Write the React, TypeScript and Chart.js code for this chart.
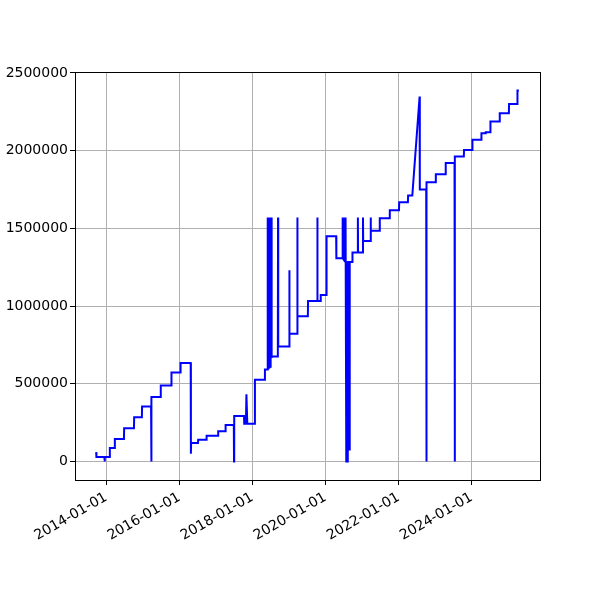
import React, { useEffect, useRef } from "react";
import { Chart, registerables } from "chart.js";

Chart.register(...registerables);

// Observation dates
const DATES: string[] = [
  "2013-09-22", "2013-09-25", "2013-12-13", "2013-12-16", "2013-12-19",
  "2014-02-04", "2014-02-06", "2014-03-26", "2014-03-28", "2014-06-27",
  "2014-06-29", "2014-10-05", "2014-10-07", "2014-12-23", "2014-12-25",
  "2015-03-25", "2015-03-27", "2015-03-30", "2015-06-28", "2015-06-30",
  "2015-10-13", "2015-10-15", "2016-01-12", "2016-01-14", "2016-04-24",
  "2016-04-26", "2016-04-28", "2016-07-06", "2016-07-08", "2016-09-28",
  "2016-09-30", "2017-01-22", "2017-01-24", "2017-04-06", "2017-04-08",
  "2017-06-29", "2017-07-01", "2017-07-03", "2017-10-09", "2017-10-11",
  "2017-10-28", "2017-11-02", "2017-11-11", "2018-01-24", "2018-01-26",
  "2018-05-04", "2018-05-06", "2018-05-30",
  "2018-06-01", "2018-06-03", "2018-06-05", "2018-06-07", "2018-06-09",
  "2018-06-11", "2018-06-13", "2018-06-15", "2018-06-17", "2018-06-19",
  "2018-06-21", "2018-06-23", "2018-06-25", "2018-06-27", "2018-06-29",
  "2018-07-01", "2018-07-03", "2018-07-05", "2018-07-07", "2018-07-09",
  "2018-07-11", "2018-07-13", "2018-07-15",
  "2018-09-12", "2018-09-14", "2018-09-16", "2019-01-03", "2019-01-05",
  "2019-01-07", "2019-03-24", "2019-03-26", "2019-03-28", "2019-07-09",
  "2019-07-11", "2019-10-10", "2019-10-12", "2019-10-14", "2019-11-13",
  "2019-11-15", "2020-01-10", "2020-01-12", "2020-04-17", "2020-04-19",
  "2020-06-17",
  "2020-06-19", "2020-06-21", "2020-06-23", "2020-06-25", "2020-06-27",
  "2020-06-29", "2020-07-01", "2020-07-03", "2020-07-05", "2020-07-07",
  "2020-07-09", "2020-07-11", "2020-07-13", "2020-07-15", "2020-07-17",
  "2020-07-19", "2020-07-21", "2020-07-23",
  "2020-07-27", "2020-08-01",
  "2020-08-05", "2020-08-11", "2020-08-27", "2020-08-29", "2020-09-01",
  "2020-09-25", "2020-09-27", "2020-11-18", "2020-11-20", "2020-11-22",
  "2021-01-08", "2021-01-10", "2021-01-12", "2021-03-26", "2021-03-28",
  "2021-03-30", "2021-06-25", "2021-06-27", "2021-10-03", "2021-10-05",
  "2022-01-05", "2022-01-07", "2022-04-04", "2022-04-06", "2022-05-18",
  "2022-07-30", "2022-08-01", "2022-10-04", "2022-10-06", "2022-10-08",
  "2023-01-06", "2023-01-08", "2023-04-15", "2023-04-17", "2023-07-14",
  "2023-07-16", "2023-07-18", "2023-10-15", "2023-10-17", "2024-01-07",
  "2024-01-09", "2024-04-06", "2024-04-08", "2024-05-19", "2024-05-21",
  "2024-07-05", "2024-07-07", "2024-10-06", "2024-10-08", "2025-01-07",
  "2025-01-09", "2025-04-01", "2025-04-03", "2025-04-17",
];

// Series values
const VALUES: number[] = [
  60000, 28000, 28000, 0, 28000,
  28000, 86000, 86000, 144000, 144000,
  214000, 214000, 285000, 285000, 354000,
  354000, 0, 414000, 414000, 489000,
  489000, 573000, 573000, 633000, 633000,
  50000, 118000, 118000, 140000, 140000,
  165000, 165000, 195000, 195000, 234000,
  234000, 0, 292000, 292000, 243000,
  243000, 433000, 243000, 243000, 526000,
  526000, 592000, 592000,
  1570000, 598000, 1570000, 600000, 1570000,
  602000, 1570000, 605000, 1570000, 640000,
  1570000, 600000, 1570000, 610000, 1570000,
  650000, 1570000, 660000, 1570000, 665000,
  1570000, 1570000, 676000,
  676000, 1570000, 740000, 740000, 1230000,
  822000, 822000, 1570000, 934000, 934000,
  1032000, 1032000, 1570000, 1032000, 1032000,
  1071000, 1071000, 1449000, 1449000, 1307000,
  1307000,
  1570000, 1310000, 1570000, 1305000, 1570000,
  1300000, 1570000, 1300000, 1570000, 1295000,
  1570000, 1290000, 1570000, 1290000, 1570000,
  1285000, 1570000, 1570000,
  0, 1283000,
  0, 1283000, 1283000, 70000, 1283000,
  1283000, 1344000, 1344000, 1570000, 1344000,
  1344000, 1570000, 1419000, 1419000, 1570000,
  1485000, 1485000, 1565000, 1565000, 1616000,
  1616000, 1668000, 1668000, 1711000, 1711000,
  2348000, 1750000, 1750000, 0, 1797000,
  1797000, 1848000, 1848000, 1921000, 1921000,
  0, 1962000, 1962000, 2004000, 2004000,
  2071000, 2071000, 2112000, 2112000, 2118000,
  2118000, 2187000, 2187000, 2241000, 2241000,
  2301000, 2301000, 2387000, 2387000,
];

const X_TICK_LABELS: string[] = [
  "2014-01-01", "2016-01-01", "2018-01-01", "2020-01-01", "2022-01-01", "2024-01-01",
];
const Y_TICKS: number[] = [0, 500000, 1000000, 1500000, 2000000, 2500000];

const FONT = "'DejaVu Sans', sans-serif";

export default function App() {
  const ref = useRef<HTMLCanvasElement | null>(null);

  useEffect(() => {
    if (!ref.current) return;
    const xs = DATES.map((d) => Date.parse(d + "T00:00:00Z"));
    const points = xs.map((x, i) => ({ x, y: VALUES[i] }));
    const xMinD = Math.min(...xs);
    const xMaxD = Math.max(...xs);
    const xm = (xMaxD - xMinD) * 0.05;
    const yMinD = Math.min(...VALUES);
    const yMaxD = Math.max(...VALUES);
    const ym = (yMaxD - yMinD) * 0.05;
    const xTickVals = X_TICK_LABELS.map((s) => Date.parse(s + "T00:00:00Z"));

    const frame = {
      id: "frame",
      afterDraw(chart: any) {
        const { ctx, chartArea } = chart;
        ctx.save();
        ctx.strokeStyle = "#000";
        ctx.lineWidth = 1;
        ctx.strokeRect(
          Math.round(chartArea.left) + 0.5,
          Math.round(chartArea.top) + 0.5,
          Math.round(chartArea.right - chartArea.left),
          Math.round(chartArea.bottom - chartArea.top)
        );
        ctx.restore();
      },
    };

    const chart = new Chart(ref.current, {
      type: "line",
      data: {
        datasets: [
          {
            data: points,
            borderColor: "#0000ff",
            borderWidth: 2,
            pointRadius: 0,
            tension: 0,
            fill: false,
          },
        ],
      },
      options: {
        animation: false,
        responsive: false,
        devicePixelRatio: 1,
        layout: { padding: { top: 72, right: 60, left: 0, bottom: 0 } },
        plugins: {
          legend: { display: false },
          tooltip: { enabled: false },
        },
        scales: {
          x: {
            type: "linear",
            min: xMinD - xm,
            max: xMaxD + xm,
            border: { display: false },
            grid: {
              color: "#b0b0b0",
              lineWidth: 1,
              tickColor: "#000",
              tickLength: 5,
            },
            ticks: {
              minRotation: 30,
              maxRotation: 30,
              autoSkip: false,
              padding: 4,
              color: "#000",
              font: { family: FONT, size: 14 },
              callback: (v: any) => {
                const i = xTickVals.indexOf(Number(v));
                return i >= 0 ? X_TICK_LABELS[i] : "";
              },
            },
            afterBuildTicks: (scale: any) => {
              scale.ticks = xTickVals.map((v) => ({ value: v }));
            },
            afterFit: (scale: any) => {
              scale.height = 120;
            },
          },
          y: {
            type: "linear",
            min: yMinD - ym,
            max: yMaxD + ym,
            border: { display: false },
            grid: {
              color: "#b0b0b0",
              lineWidth: 1,
              tickColor: "#000",
              tickLength: 5,
            },
            ticks: {
              padding: 2,
              color: "#000",
              font: { family: FONT, size: 14 },
              callback: (v: any) => String(v),
            },
            afterBuildTicks: (scale: any) => {
              scale.ticks = Y_TICKS.map((v) => ({ value: v }));
            },
            afterFit: (scale: any) => {
              scale.width = 75;
            },
          },
        },
      },
      plugins: [frame],
    });
    return () => chart.destroy();
  }, []);

  return (
    <div style={{ position: "fixed", left: 0, top: 0, width: 600, height: 600, background: "#fff" }}>
      <canvas ref={ref} width={600} height={600} style={{ width: 600, height: 600 }} />
    </div>
  );
}
